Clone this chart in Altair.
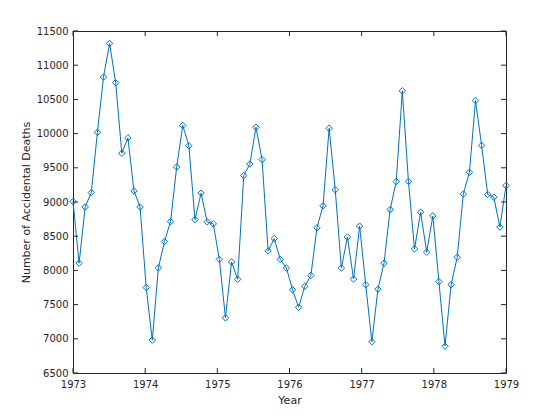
import altair as alt
import pandas as pd

years = [1973, 1974, 1975, 1976, 1977, 1978]
deaths_1973 = [9007, 8106, 8928, 9137, 10017, 10826, 11317, 10744, 9713, 9938, 9161, 8927]
deaths_1974 = [7750, 6981, 8038, 8422, 8714, 9512, 10120, 9823, 8743, 9129, 8710, 8680]
deaths_1975 = [8162, 7306, 8124, 7870, 9387, 9556, 10093, 9620, 8285, 8466, 8160, 8034]
deaths_1976 = [7717, 7461, 7767, 7925, 8623, 8945, 10078, 9179, 8037, 8488, 7874, 8647]
deaths_1977 = [7792, 6957, 7726, 8106, 8890, 9299, 10625, 9302, 8314, 8850, 8265, 8796]
deaths_1978 = [7836, 6892, 7791, 8192, 9115, 9434, 10484, 9827, 9110, 9070, 8633, 9240]
all_years = [deaths_1973, deaths_1974, deaths_1975, deaths_1976, deaths_1977, deaths_1978]

x_ticks = [1973, 1974, 1975, 1976, 1977, 1978, 1979]
y_ticks = [6500, 7000, 7500, 8000, 8500, 9000, 9500, 10000, 10500, 11000, 11500]

values = [v for vals in all_years for v in vals]
n = len(values)
# the reference spreads the 72 months evenly from 1973 to 1979
t = [1973 + i * 6.0 / (n - 1) for i in range(n)]
df = pd.DataFrame({"t": t, "deaths": values})

W, H = 433, 342
C = "#0072BD"
AX = "#262626"

xs = alt.Scale(domain=[1973, 1979], nice=False, zero=False)
ys = alt.Scale(domain=[6500, 11500], nice=False, zero=False)
xax = alt.Axis(values=x_ticks, format="d", ticks=False, labelPadding=6, titlePadding=5,
               labelFlush=False, grid=False)
yax = alt.Axis(values=y_ticks, format="d", ticks=False, labelPadding=5, titlePadding=5,
               labelFlush=False, grid=False)
XT = "Year"
YT = "Number of Accidental Deaths"

base = alt.Chart(df)
line = base.mark_line(color=C, strokeWidth=1).encode(
    x=alt.X("t:Q", scale=xs, title=XT, axis=xax),
    y=alt.Y("deaths:Q", scale=ys, title=YT, axis=yax),
)
pts = base.mark_point(shape="diamond", size=42, filled=False, color=C, strokeWidth=1, opacity=1).encode(
    x=alt.X("t:Q", scale=xs, title=XT, axis=xax),
    y=alt.Y("deaths:Q", scale=ys, title=YT, axis=yax),
)

xt = pd.DataFrame({"v": x_ticks})
yt = pd.DataFrame({"v": y_ticks})
xb = alt.Chart(xt).mark_rule(color=AX, strokeWidth=1).encode(
    x=alt.X("v:Q", scale=xs, title=XT, axis=xax), y=alt.value(H), y2=alt.value(H - 5))
xtp = alt.Chart(xt).mark_rule(color=AX, strokeWidth=1).encode(
    x=alt.X("v:Q", scale=xs, title=XT, axis=xax), y=alt.value(0), y2=alt.value(5))
yl = alt.Chart(yt).mark_rule(color=AX, strokeWidth=1).encode(
    y=alt.Y("v:Q", scale=ys, title=YT, axis=yax), x=alt.value(0), x2=alt.value(5))
yr = alt.Chart(yt).mark_rule(color=AX, strokeWidth=1).encode(
    y=alt.Y("v:Q", scale=ys, title=YT, axis=yax), x=alt.value(W), x2=alt.value(W - 5))

chart = alt.layer(line, pts, xb, xtp, yl, yr).properties(
    width=W, height=H,
    background="white",
    autosize=alt.AutoSizeParams(type="none"),
    padding={"left": 65, "top": 23, "right": 30, "bottom": 40},
).configure_view(stroke=AX, strokeWidth=1).configure_axis(
    domain=True, domainColor=AX, labelColor=AX, titleColor=AX,
    labelFont="DejaVu Sans", titleFont="DejaVu Sans",
    labelFontSize=10, titleFontSize=11, titleFontWeight="normal", grid=False,
)

chart.save("out.html", embed_options={"renderer": "svg", "actions": False})
